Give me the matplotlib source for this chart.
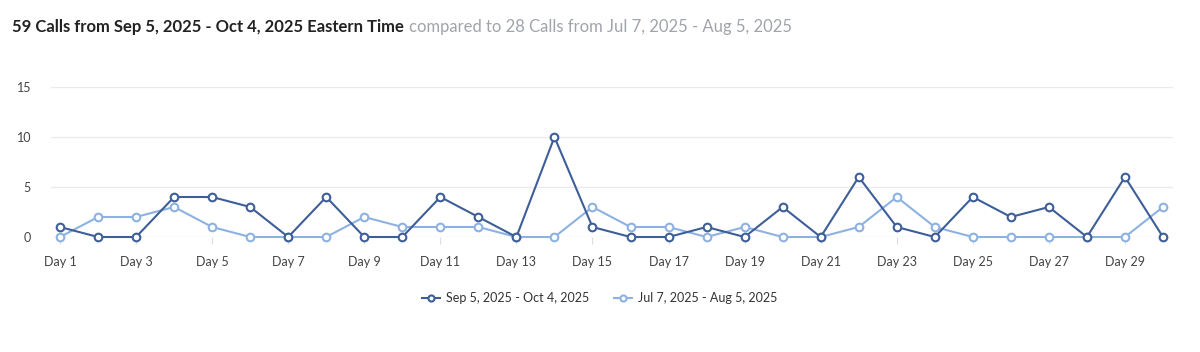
import matplotlib
matplotlib.use("Agg")
import matplotlib.pyplot as plt

days = list(range(1, 31))
current = [1, 0, 0, 4, 4, 3, 0, 4, 0, 0, 4, 2, 0, 10, 1, 0, 0, 1, 0, 3, 0, 6, 1, 0, 4, 2, 3, 0, 6, 0]
previous = [0, 2, 2, 3, 1, 0, 0, 0, 2, 1, 1, 1, 0, 0, 3, 1, 1, 0, 1, 0, 0, 1, 4, 1, 0, 0, 0, 0, 0, 3]
tick_days = list(range(1, 31, 2))
tick_labels = [f"Day {d}" for d in tick_days]
yticks = [0, 5, 10, 15]
label_cur = "Sep 5, 2025 - Oct 4, 2025"
label_prev = "Jul 7, 2025 - Aug 5, 2025"

plt.rcParams['font.family'] = ['Lato', 'DejaVu Sans']

W, H = 1200, 352
fig = plt.figure(figsize=(W / 100, H / 100), dpi=100)
ax = fig.add_axes([50.5 / W, 115 / H, (1172.5 - 50.5) / W, 150 / H])

dark = "#3d5e98"
light = "#8db2e2"

ax.plot(days, previous, color=light, lw=1.5, marker="o", ms=5.5, mfc="white",
        mec=light, mew=1.5, clip_on=False, zorder=3, label=label_prev)
ax.plot(days, current, color=dark, lw=1.5, marker="o", ms=5.5, mfc="white",
        mec=dark, mew=1.5, clip_on=False, zorder=4, label=label_cur)

ax.set_xlim(0.75, 30.25)
ax.set_ylim(0, 15)
ax.set_yticks(yticks)
ax.set_yticklabels([str(v) for v in yticks])
ax.set_xticks(tick_days)
ax.set_xticklabels(tick_labels)
ax.grid(axis="y", color="#ebebeb", lw=1)
ax.set_axisbelow(True)
for s in ax.spines.values():
    s.set_visible(False)
ax.tick_params(axis="y", length=0, pad=14, labelsize=9, labelcolor="#444444")
ax.tick_params(axis="x", length=5, width=0.8, color="#dddddd", pad=9,
               labelsize=9, labelcolor="#444444")

handles, labels = ax.get_legend_handles_labels()
leg = fig.legend(handles[::-1], labels[::-1], loc="center", bbox_to_anchor=(0.5, 54 / H),
                 ncol=2, frameon=False, fontsize=9, handlelength=1.4,
                 columnspacing=2.0, handletextpad=0.5, markerscale=0.8)
for t in leg.get_texts():
    t.set_color("#333333")

fig.text(12 / W, 1 - 27 / H, "59 Calls from Sep 5, 2025 - Oct 4, 2025 Eastern Time",
         fontsize=12, fontweight="bold", color="#222222", va="center", ha="left")
fig.canvas.draw()
bold_t = fig.texts[0]
bb = bold_t.get_window_extent()
fig.text((bb.x1 + 5) / W, 1 - 27 / H, "compared to 28 Calls from Jul 7, 2025 - Aug 5, 2025",
         fontsize=12, color="#a0a4ab", va="center", ha="left")

fig.savefig("out.png", dpi=100, facecolor="white")
